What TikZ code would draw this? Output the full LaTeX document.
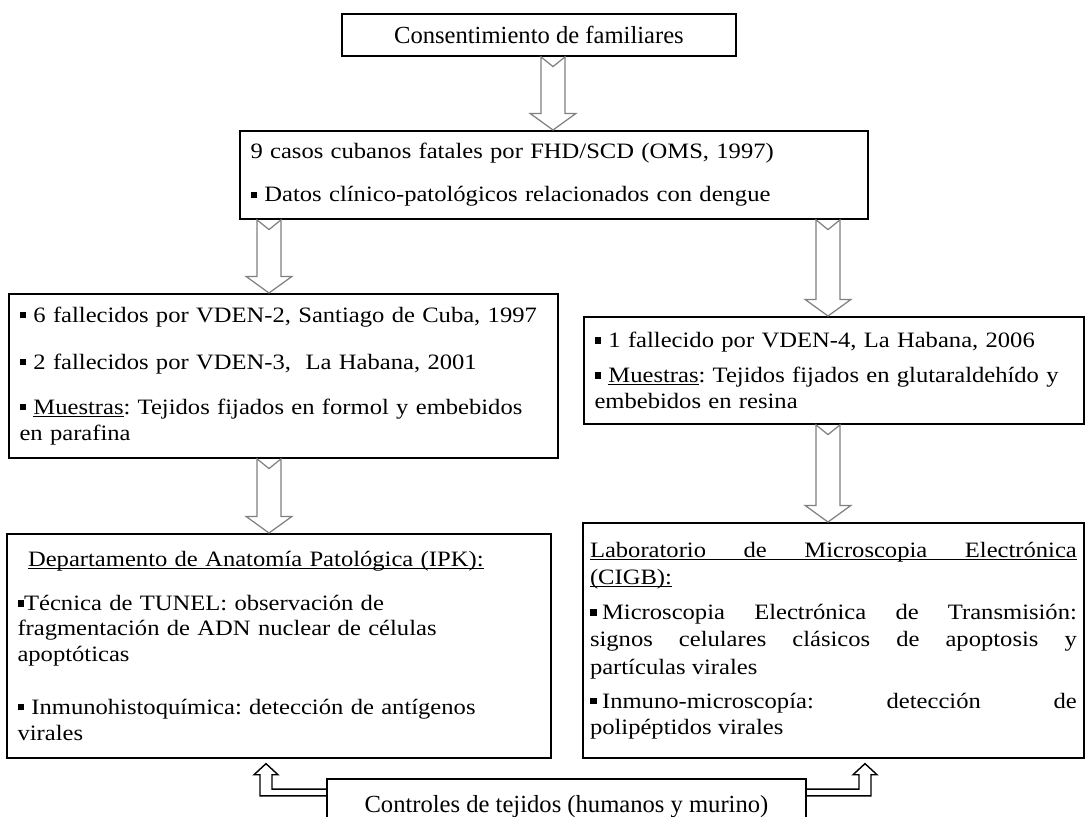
\documentclass[tikz,border=0pt]{standalone}
\usepackage{fontspec}
\setmainfont{Liberation Serif}
\newfontfamily\cuerpo[FakeStretch=1.12]{Liberation Serif}
\usetikzlibrary{calc}

\setlength{\parindent}{0pt}
\frenchspacing
\hyphenpenalty=10000
\exhyphenpenalty=10000
\newcommand{\sqb}{\rule[0.17em]{0.3em}{0.3em}}
\newcommand{\subr}[1]{\leavevmode{\setbox0\hbox{#1}\rlap{\rule[-1.6pt]{\wd0}{0.6pt}}\box0}}
\newcommand{\lead}[1]{\fontsize{12.5}{#1}\selectfont}

\tikzset{
  caja/.style={draw, line width=1.1pt, anchor=north west, inner xsep=6pt,
    inner ysep=2pt, font=\cuerpo\lead{15pt}\sloppy},
  titulo/.style={caja, font=\fontsize{14}{16}\selectfont},
  flecha/.style={draw=black!50, line width=0.7pt, fill=white},
  codo/.style={draw=black, line width=0.8pt},
}

\begin{document}
\begin{tikzpicture}[x=0.02cm,y=-0.02cm]
      \useasboundingbox (0,0) rectangle (1089,816);

      %%%%%%%%%%%%%%%%%%%%%%%%%%%%%%%%%%%%%%%%%%%%%%%%%%%%%%%%%%%%%%%%%%%%%%%%%%%
      %%%%  Cajas
      \node[titulo, minimum width=7.88cm, minimum height=0.84cm] (fam) at (341,13)
        {Consentimiento de familiares};

      \node[caja, text width=12.56cm-12pt, minimum height=1.76cm, align=left] (casos) at (239,130)
        {9 casos cubanos fatales por FHD/SCD (OMS, 1997)\\[9.5pt]
         \sqb\ Datos clínico-patológicos relacionados con dengue};

      \node[caja, text width=10.98cm-12pt, minimum height=3.28cm, align=left] (grupoA) at (8,293)
        {\lead{15.9pt}%
         \sqb\ 6 fallecidos por VDEN-2, Santiago de Cuba, 1997\\[10.8pt]
         \sqb\ 2 fallecidos por VDEN-3,\ \ La Habana, 2001\\[9.7pt]
         \sqb\ \subr{Muestras}: Tejidos fijados en formol y embebidos\\
         en parafina};

      \node[caja, text width=10cm-12pt, minimum height=2.14cm, align=left] (grupoB) at (583,316)
        {\lead{18.2pt}%
         \sqb\ 1 fallecido por VDEN-4, La Habana, 2006\\[1.7pt]
         \sqb\ \subr{Muestras}: Tejidos fijados en glutaraldehído y\\
         embebidos en resina};

      \node[caja, text width=10.88cm-12pt, minimum height=4.48cm, align=left] (ipk) at (6,533)
        {\lead{14.5pt}%
         \hspace*{6pt}\subr{Departamento de Anatomía Patológica (IPK):}\\[10.5pt]
         \sqb Técnica de TUNEL: observación de\\
         fragmentación de ADN nuclear de células\\
         apoptóticas\\[15.6pt]
         \sqb\ Inmunohistoquímica: detección de antígenos\\
         virales};

      \node[caja, inner xsep=4pt, text width=10.02cm-8pt, minimum height=4.7cm, align=justify] (cigb) at (582,522)
        {\lead{15.6pt}%
         \subr{\makebox[\linewidth][s]{Laboratorio de Microscopia Electrónica}}\par
         \subr{(CIGB):}\par\vspace{4.3pt}
         \sqb\hspace{0.25em}Microscopia Electrónica de Transmisión:\linebreak
         signos celulares clásicos de apoptosis y\linebreak
         partículas virales\par\vspace{4.3pt}
         \sqb\hspace{0.25em}Inmuno-microscopía: detección de\linebreak
         polipéptidos virales};

      \node[titulo, minimum width=9.58cm, minimum height=1.12cm] (ctrl) at (326,778)
        {Controles de tejidos (humanos y murino)};

      %%%%%%%%%%%%%%%%%%%%%%%%%%%%%%%%%%%%%%%%%%%%%%%%%%%%%%%%%%%%%%%%%%%%%%%%%%%
      %%%%  Flechas huecas
      \def\shw{6.8pt}\def\hdw{13pt}\def\hdl{9.4pt}\def\ntc{5.5pt}
      \foreach \a/\b/\ax in {fam/casos/553, casos/grupoA/269, casos/grupoB/828,
                             grupoA/ipk/269, grupoB/cigb/828}
      {\path (\ax,0) coordinate (ax);
       \draw[flecha] let \p1=(ax |- \a.south), \p2=(ax |- \b.north) in
         ({\x1-\shw},\y1) -- (\x1,{\y1-\ntc}) -- ({\x1+\shw},\y1)
         -- ({\x1+\shw},{\y2+\hdl}) -- ({\x1+\hdw},{\y2+\hdl}) -- (\x1,\y2)
         -- ({\x1-\hdw},{\y2+\hdl}) -- ({\x1-\shw},{\y2+\hdl}) -- cycle;
      };

      %%%%%%%%%%%%%%%%%%%%%%%%%%%%%%%%%%%%%%%%%%%%%%%%%%%%%%%%%%%%%%%%%%%%%%%%%%%
      %%%%  Controles hacia ambos laboratorios
      \foreach \lado/\dest/\bx/\s in {west/ipk/266/1, east/cigb/865/-1}
      {\path (\bx,0) coordinate (bx);
       \draw[codo] let \p1=(bx |- \dest.south), \p2=(ctrl.north \lado) in
         (\x2,{\y2-6.3pt}) -- ({\x1+\s*3.4pt},{\y2-6.3pt})
         -- ({\x1+\s*3.4pt},{\y1-9pt}) -- ({\x1+\s*6.8pt},{\y1-9pt}) -- (\x1,{\y1-2.7pt})
         -- ({\x1-\s*6.8pt},{\y1-9pt}) -- ({\x1-\s*3.4pt},{\y1-9pt})
         -- ({\x1-\s*3.4pt},{\y2-10.2pt}) -- (\x2,{\y2-10.2pt});
      };
\end{tikzpicture}
\end{document}
